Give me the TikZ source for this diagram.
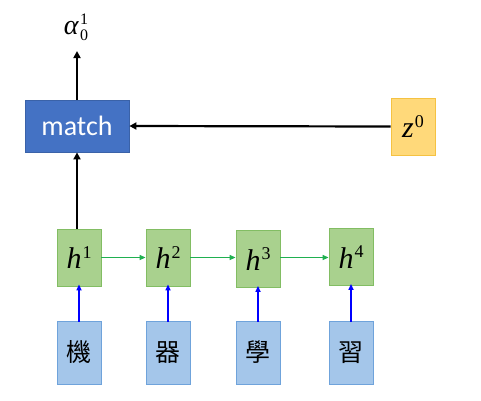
\documentclass[tikz,border=0pt]{standalone}
\usepackage{fontspec}
\newfontfamily\cjk{Noto Sans CJK TC}
\newfontfamily\carl{Carlito}
\newfontfamily\mserif{Liberation Serif}
\usetikzlibrary{arrows.meta}
\definecolor{matchfill}{HTML}{4472C4}
\definecolor{matchdraw}{HTML}{3A62A8}
\definecolor{zfill}{HTML}{FFD97A}
\definecolor{zdraw}{HTML}{F5C242}
\definecolor{hfill}{HTML}{A9D18E}
\definecolor{hdraw}{HTML}{82BD63}
\definecolor{wfill}{HTML}{A4C6EA}
\definecolor{wdraw}{HTML}{6FA3DB}
\definecolor{garrow}{HTML}{1FB050}
\tikzset{
  hbox/.style={draw=hdraw, fill=hfill, line width=0.8pt, minimum width=44pt, minimum height=57pt, inner sep=0pt, font=\mserif\fontsize{30}{30}\selectfont},
  wbox/.style={draw=wdraw, fill=wfill, line width=0.8pt, minimum width=44pt, minimum height=63pt, inner sep=0pt, font=\cjk\fontsize{25}{25}\selectfont},
  blk/.style={-{Triangle[length=7pt,width=7pt]}, line width=2.2pt},
  grn/.style={-{Triangle[length=6pt,width=5pt]}, line width=1.3pt, draw=garrow},
  blu/.style={-{Triangle[length=6pt,width=5pt]}, line width=1.6pt, draw=blue},
}
\newcommand{\myVar}[2]{\textit{#1}\kern1pt\raisebox{0.36em}{\fontsize{18}{18}\selectfont #2}}
\begin{document}
\begin{tikzpicture}[x=1pt,y=-1pt]
\useasboundingbox (0,0) rectangle (481,400);
\node[draw=matchdraw, fill=matchfill, line width=0.8pt, minimum width=104pt, minimum height=52pt, inner sep=0pt, text=white, font=\carl\fontsize{28}{28}\selectfont] (match) at (77,126) {match};
\node[draw=zdraw, fill=zfill, line width=0.8pt, minimum width=44pt, minimum height=57pt, inner sep=0pt, font=\mserif\fontsize{30}{30}\selectfont] (z) at (413,126.5) {\myVar{z}{0}};
\node[inner sep=0pt, font=\mserif\fontsize{28}{28}\selectfont] (alpha) at (76,27) {\textit{α}\kern1pt\raisebox{0.38em}{\rlap{\fontsize{16}{16}\selectfont 1}}\raisebox{-0.2em}{\fontsize{16}{16}\selectfont 0}};
\coordinate (atip) at (77,51);
\node[hbox] (h1) at (79,257.5) {\myVar{h}{1}};
\node[hbox] (h2) at (168,257.5) {\myVar{h}{2}};
\node[hbox] (h3) at (258,259) {\myVar{h}{3}};
\node[hbox] (h4) at (351,257) {\myVar{h}{4}};
\node[wbox] (w1) at (79,352.5) {機};
\node[wbox] (w2) at (168,352.5) {器};
\node[wbox] (w3) at (258,352.5) {學};
\node[wbox] (w4) at (351,352.5) {習};
\draw[blk] (match.north) -- (atip);
\draw[blk] (z.west) -- (match.east);
\draw[blk] (h1.north -| match.south) -- (match.south);
\draw[grn] (h1.east) -- (h2.west);
\draw[grn] (h2.east) -- (h2.east -| h3.west);
\draw[grn] (h3.east |- h2.east) -- (h4.west |- h2.east);
\foreach \i in {1,2,3,4} {
  \draw[blu] ([yshift=-1pt]w\i.north) -- ([yshift=2pt]w\i.north |- h\i.south);
}
\end{tikzpicture}
\end{document}
